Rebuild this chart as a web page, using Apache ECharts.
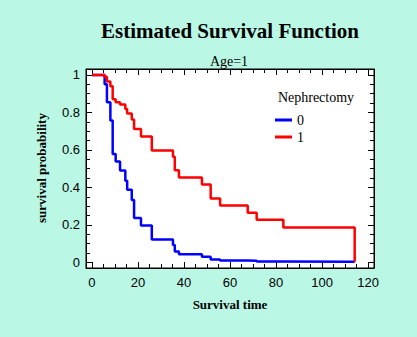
<!DOCTYPE html>
<html>
<head>
<meta charset="utf-8">
<script src="https://cdn.jsdelivr.net/npm/echarts@6/dist/echarts.min.js"></script>
<style>
html,body{margin:0;padding:0;background:#baf8e5;}
#c{width:417px;height:337px;}
</style>
</head>
<body>
<div id="c"></div>
<script>
// Data
const times = [0, 5.5, 6.5, 8, 9, 10.3, 12.2, 14.5, 15.3, 17.3, 18.3, 21.3, 26, 35.2, 36, 37.8, 47.8, 51.6, 55.7, 67.7, 71.6, 83.2, 114.2];
const survNeph1 = [1, 0.99, 0.965, 0.94, 0.87, 0.855, 0.843, 0.818, 0.795, 0.763, 0.712, 0.672, 0.597, 0.564, 0.491, 0.453, 0.416, 0.341, 0.304, 0.265, 0.228, 0.186, 0.004];
const survNeph0 = [1, 0.95, 0.855, 0.757, 0.578, 0.538, 0.49, 0.436, 0.387, 0.333, 0.237, 0.197, 0.122, 0.093, 0.058, 0.044, 0.03, 0.016, 0.01, 0.009, 0.005, 0.004, 0.003];
const seriesNames = ['0', '1'];
const xMajorTicks = [0, 20, 40, 60, 80, 100, 120];
const xMinorTicks = [0,5,10,15,20,25,30,35,40,45,50,55,60,65,70,75,80,85,90,95,100,105,110,115,120];
const yMajorTicks = [0, 0.2, 0.4, 0.6, 0.8, 1];
const yMinorTicks = [0,0.05,0.1,0.15,0.2,0.25,0.3,0.35,0.4,0.45,0.5,0.55,0.6,0.65,0.7,0.75,0.8,0.85,0.9,0.95,1];
const titleText = 'Estimated Survival Function';
const subtitleText = 'Age=1';
const legendTitle = 'Nephrectomy';
const xName = 'Survival time';
const yName = 'survival probability';

const chart = echarts.init(document.getElementById('c'), null, {renderer: 'svg'});
const serif = '"Liberation Serif", "Times New Roman", serif';
const sans = '"Liberation Sans", Arial, sans-serif';
const X_MIN = -2.6, X_MAX = 122.6, Y_MIN = -0.03, Y_MAX = 1.032;

function xAxisDef(pos, ticks, len, showLabel, showLine) {
  return {
    type: 'value', position: pos, min: X_MIN, max: X_MAX,
    axisLine: {show: showLine, onZero: false, lineStyle: {color: '#000', width: 1}},
    axisTick: {show: true, inside: true, length: len, customValues: ticks, lineStyle: {color: '#000', width: 1}},
    axisLabel: {show: showLabel, customValues: xMajorTicks, margin: 8, color: '#000', fontFamily: sans, fontSize: 13},
    splitLine: {show: false}
  };
}
function yAxisDef(pos, ticks, len, showLabel, showLine) {
  return {
    type: 'value', position: pos, min: Y_MIN, max: Y_MAX,
    axisLine: {show: showLine, onZero: false, lineStyle: {color: '#000', width: 1}},
    axisTick: {show: true, inside: true, length: len, customValues: ticks, lineStyle: {color: '#000', width: 1}},
    axisLabel: {show: showLabel, customValues: yMajorTicks, margin: 6, color: '#000', fontFamily: sans, fontSize: 13,
      formatter: v => String(Math.round(v * 10) / 10)},
    splitLine: {show: false}
  };
}

const option = {
  animation: false,
  backgroundColor: '#baf8e5',
  grid: {left: 86, right: 43, top: 69, bottom: 69, show: true, backgroundColor: '#fff', borderColor: '#000', borderWidth: 1, containLabel: false},
  xAxis: [
    xAxisDef('bottom', xMajorTicks, 6, true, true),
    xAxisDef('bottom', xMinorTicks, 4, false, false),
    xAxisDef('top', xMajorTicks, 6, false, true),
    xAxisDef('top', xMinorTicks, 4, false, false)
  ],
  yAxis: [
    yAxisDef('left', yMajorTicks, 6, true, true),
    yAxisDef('left', yMinorTicks, 4, false, false),
    yAxisDef('right', yMajorTicks, 6, false, true),
    yAxisDef('right', yMinorTicks, 4, false, false)
  ],
  legend: {
    orient: 'vertical', left: 270, top: 108, itemWidth: 17, itemHeight: 3, itemGap: 3, icon: 'rect',
    textStyle: {fontFamily: serif, fontSize: 14, color: '#000', padding: [0, 0, 0, 0]},
    data: seriesNames
  },
  graphic: [
    {type: 'text', style: {text: titleText, x: 230, y: 31, textAlign: 'center', textVerticalAlign: 'middle', font: 'bold 21px ' + serif, fill: '#000'}},
    {type: 'text', style: {text: subtitleText, x: 229, y: 61, textAlign: 'center', textVerticalAlign: 'middle', font: '14px ' + serif, fill: '#000'}},
    {type: 'text', style: {text: legendTitle, x: 316, y: 97, textAlign: 'center', textVerticalAlign: 'middle', font: '14px ' + serif, fill: '#000'}},
    {type: 'text', style: {text: xName, x: 230, y: 304, textAlign: 'center', textVerticalAlign: 'middle', font: 'bold 13px ' + serif, fill: '#000'}},
    {type: 'text', x: 41, y: 168, rotation: Math.PI / 2, style: {text: yName, x: 0, y: 0, textAlign: 'center', textVerticalAlign: 'middle', font: 'bold 13px ' + serif, fill: '#000'}}
  ],
  series: [
    {name: seriesNames[0], type: 'line', step: 'end', symbol: 'none', xAxisIndex: 0, yAxisIndex: 0,
      lineStyle: {color: '#0000ff', width: 2.5}, itemStyle: {color: '#0000ff'},
      data: times.map((t, i) => [t, survNeph0[i]])},
    {name: seriesNames[1], type: 'line', step: 'end', symbol: 'none', xAxisIndex: 0, yAxisIndex: 0,
      lineStyle: {color: '#ff0000', width: 2.5}, itemStyle: {color: '#ff0000'},
      data: times.map((t, i) => [t, survNeph1[i]])}
  ]
};
chart.setOption(option);
</script>
</body>
</html>
